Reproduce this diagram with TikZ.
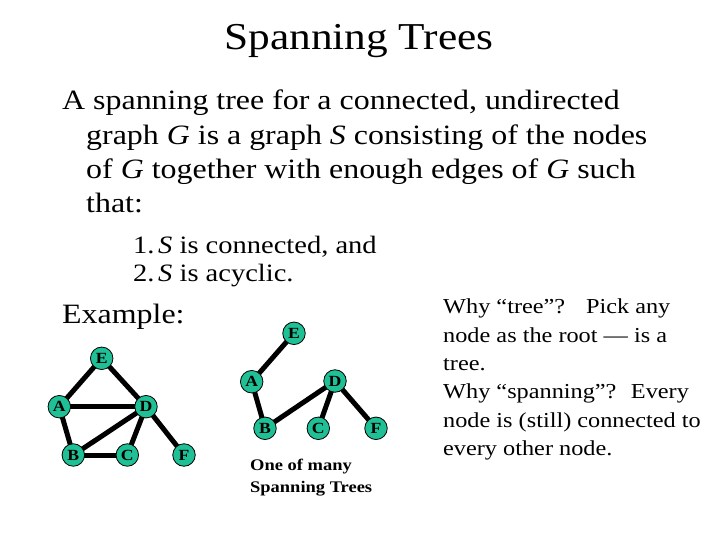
\documentclass[tikz,border=0pt]{standalone}
\usepackage{fontspec}
\setmainfont{Liberation Serif}[FakeStretch=1.14]
\usetikzlibrary{backgrounds}
\definecolor{nodeteal}{RGB}{32,192,150}
\tikzset{
  txt/.style={anchor=base west, inner sep=0pt},
  titletxt/.style={anchor=base, inner sep=0pt, font=\fontsize{38}{40}\selectfont},
  bodytxt/.style={txt, font=\fontsize{28}{30}\selectfont},
  listtxt/.style={txt, font=\fontsize{25}{27}\selectfont},
  sidetxt/.style={txt, font=\fontsize{21.3}{23}\selectfont},
  captxt/.style={txt, font=\bfseries\fontsize{16.2}{18}\selectfont},
  gnode/.style={circle, draw=black, line width=0.8pt, fill=nodeteal, minimum size=22.5pt, inner sep=0pt, font=\bfseries\fontsize{15.5}{15.5}\selectfont},
  gedge/.style={line width=5pt, black}
}
\begin{document}
\begin{tikzpicture}[x=1pt,y=-1pt]
\useasboundingbox (0,0) rectangle (720,540);
% title
\node[titletxt] (title) at (359,50) {Spanning Trees};
% body
\node[bodytxt] (b1) at (62,110) {A spanning tree for a connected, undirected};
\node[bodytxt] (b2) at (86,145) {graph \textit{G} is a graph \textit{S} consisting of the nodes};
\node[bodytxt] (b3) at (86,179) {of \textit{G} together with enough edges of \textit{G} such};
\node[bodytxt] (b4) at (86,213) {that:};
% list
\node[listtxt] (n1) at (133,253) {1.};
\node[listtxt] (l1) at (158,253) {\textit{S} is connected, and};
\node[listtxt] (n2) at (133,281) {2.};
\node[listtxt] (l2) at (158,281) {\textit{S} is acyclic.};
% example
\node[bodytxt] (ex) at (62,323) {Example:};
% side text
\node[sidetxt] (s1) at (443,313) {Why “tree”?\hspace{0.6em} Pick any};
\node[sidetxt] (s2) at (443,342) {node as the root — is a};
\node[sidetxt] (s3) at (443,370) {tree.};
\node[sidetxt] (s4) at (443,398) {Why “spanning”?\hspace{0.3em} Every};
\node[sidetxt] (s5) at (443,427) {node is (still) connected to};
\node[sidetxt] (s6) at (443,455) {every other node.};
% caption
\node[captxt] (c1) at (250,470) {One of many};
\node[captxt] (c2) at (250,492) {Spanning Trees};
% left graph
\node[gnode] (E1) at (101.7,358.3) {E};
\node[gnode] (A1) at (59.3,406.7) {A};
\node[gnode] (D1) at (146,406.7) {D};
\node[gnode] (B1) at (73.3,455) {B};
\node[gnode] (C1) at (127.3,455) {C};
\node[gnode] (F1) at (184,455) {F};
% right graph
\node[gnode] (E2) at (294,333.3) {E};
\node[gnode] (A2) at (251.7,381.7) {A};
\node[gnode] (D2) at (335,381) {D};
\node[gnode] (B2) at (265,428.3) {B};
\node[gnode] (C2) at (318.3,428.3) {C};
\node[gnode] (F2) at (376,428.3) {F};
\begin{scope}[on background layer]
\draw[gedge] (E1.center) -- (A1.center);
\draw[gedge] (E1.center) -- (D1.center);
\draw[gedge] (A1.center) -- (D1.center);
\draw[gedge] (A1.center) -- (B1.center);
\draw[gedge] (B1.center) -- (D1.center);
\draw[gedge] (B1.center) -- (C1.center);
\draw[gedge] (C1.center) -- (D1.center);
\draw[gedge] (D1.center) -- (F1.center);
\draw[gedge] (E2.center) -- (A2.center);
\draw[gedge] (A2.center) -- (B2.center);
\draw[gedge] (B2.center) -- (D2.center);
\draw[gedge] (D2.center) -- (C2.center);
\draw[gedge] (D2.center) -- (F2.center);
\end{scope}
\end{tikzpicture}
\end{document}
